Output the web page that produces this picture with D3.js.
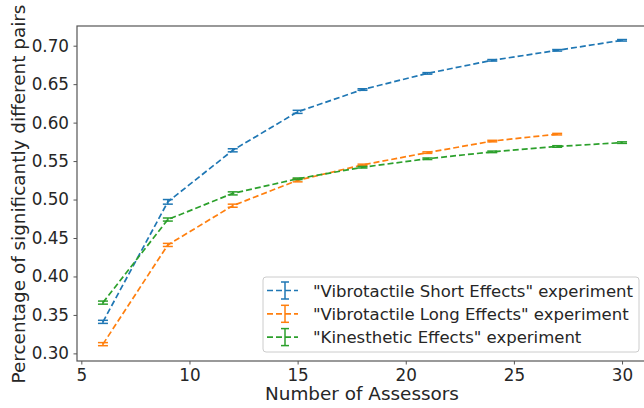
<!DOCTYPE html>
<html>
<head>
<meta charset="utf-8">
<script src="https://cdn.jsdelivr.net/npm/d3@7"></script>
<style>
  body { margin: 0; background: #fff; }
  text { font-family: "DejaVu Sans", sans-serif; fill: #262626; }
</style>
</head>
<body>
<div class="chart"></div>
<script>
// chart data
var assessors = [6, 9, 12, 15, 18, 21, 24, 27, 30];
var shortVals = [0.341, 0.497, 0.564, 0.614, 0.643, 0.664, 0.681, 0.694, 0.707];
var shortErr  = [0.002, 0.003, 0.002, 0.002, 0.001, 0.001, 0.001, 0.001, 0.001];
var longVals  = [0.312, 0.441, 0.492, 0.525, 0.545, 0.561, 0.576, 0.585];
var longErr   = [0.002, 0.002, 0.002, 0.002, 0.001, 0.001, 0.001, 0.001];
var kinVals   = [0.366, 0.474, 0.508, 0.527, 0.542, 0.553, 0.562, 0.569, 0.574];
var kinErr    = [0.002, 0.002, 0.002, 0.001, 0.001, 0.001, 0.001, 0.001, 0.001];
var seriesNames = ['"Vibrotactile Short Effects" experiment',
                   '"Vibrotactile Long Effects" experiment',
                   '"Kinesthetic Effects" experiment'];
var colors = ["#1f77b4", "#ff7f0e", "#2ca02c"];
var xTicks = [5, 10, 15, 20, 25, 30];
var yTicks = [0.30, 0.35, 0.40, 0.45, 0.50, 0.55, 0.60, 0.65, 0.70];

var svgWidth = 644, svgHeight = 408;
var margin = { top: 26, right: -4, bottom: 47, left: 77 };
var chartWidth = svgWidth - margin.left - margin.right;
var chartHeight = svgHeight - margin.top - margin.bottom;

var svg = d3.select(".chart").append("svg")
    .attr("width", svgWidth)
    .attr("height", svgHeight);

var chart = svg.append("g")
    .attr("transform", "translate(" + margin.left + "," + margin.top + ")");

var x = d3.scaleLinear().domain([4.8, 31.2]).range([0, chartWidth]);
var y = d3.scaleLinear().domain([0.2901, 0.7256]).range([chartHeight, 0]);

// frame
chart.append("rect")
    .attr("width", chartWidth).attr("height", chartHeight)
    .attr("fill", "none").attr("stroke", "#555").attr("stroke-width", 1.2);

// axes
var xAxis = chart.append("g")
    .attr("transform", "translate(0," + chartHeight + ")")
    .call(d3.axisBottom(x).tickValues(xTicks).tickSize(3.5).tickPadding(5).tickFormat(d3.format("d")));
var yAxis = chart.append("g")
    .call(d3.axisLeft(y).tickValues(yTicks).tickSize(3.5).tickPadding(4.5).tickFormat(d3.format(".2f")));
[xAxis, yAxis].forEach(function(a) {
    a.select(".domain").remove();
    a.selectAll("line").attr("stroke", "#555");
    a.selectAll("text").attr("font-size", 16.8).attr("fill", "#262626")
        .attr("font-family", "DejaVu Sans, sans-serif");
});

var series = [
    { vals: shortVals, err: shortErr },
    { vals: longVals, err: longErr },
    { vals: kinVals, err: kinErr }
];

var line = d3.line()
    .x(function(d) { return x(d.x); })
    .y(function(d) { return y(d.y); });

series.forEach(function(s, i) {
    var pts = s.vals.map(function(v, j) { return { x: assessors[j], y: v, e: s.err[j] }; });
    var g = chart.append("g");
    g.append("path")
        .datum(pts)
        .attr("d", line)
        .attr("fill", "none")
        .attr("stroke", colors[i])
        .attr("stroke-width", 1.7)
        .attr("stroke-dasharray", "6,3");
    var eb = g.selectAll(".eb").data(pts).enter().append("g");
    eb.append("line")
        .attr("x1", function(d) { return x(d.x); }).attr("x2", function(d) { return x(d.x); })
        .attr("y1", function(d) { return y(d.y - d.e); }).attr("y2", function(d) { return y(d.y + d.e); })
        .attr("stroke", colors[i]).attr("stroke-width", 1.5);
    [-1, 1].forEach(function(sg) {
        eb.append("line")
            .attr("x1", function(d) { return x(d.x) - 5; }).attr("x2", function(d) { return x(d.x) + 5; })
            .attr("y1", function(d) { return y(d.y + sg * d.e); }).attr("y2", function(d) { return y(d.y + sg * d.e); })
            .attr("stroke", colors[i]).attr("stroke-width", 1.5);
    });
});

// axis labels
svg.append("text")
    .attr("x", 362)
    .attr("y", 400)
    .attr("text-anchor", "middle")
    .attr("font-size", 18.4)
    .text("Number of Assessors");

svg.append("text")
    .attr("transform", "translate(25,194) rotate(-90)")
    .attr("text-anchor", "middle")
    .attr("font-size", 18.4)
    .text("Percentage of significantly different pairs");

// legend
var legend = svg.append("g").attr("transform", "translate(263,277)");
legend.append("rect")
    .attr("width", 376).attr("height", 75).attr("rx", 3)
    .attr("fill", "#fff").attr("fill-opacity", 0.8)
    .attr("stroke", "#ccc").attr("stroke-width", 1);
seriesNames.forEach(function(name, i) {
    var row = legend.append("g").attr("transform", "translate(0," + (13.5 + i * 23.3) + ")");
    row.append("line").attr("x1", 4).attr("x2", 35).attr("y1", 0).attr("y2", 0)
        .attr("stroke", colors[i]).attr("stroke-width", 1.7).attr("stroke-dasharray", "6,3");
    row.append("line").attr("x1", 22).attr("x2", 22).attr("y1", -8.5).attr("y2", 8.5)
        .attr("stroke", colors[i]).attr("stroke-width", 1.5);
    row.append("line").attr("x1", 18).attr("x2", 26).attr("y1", -8.5).attr("y2", -8.5)
        .attr("stroke", colors[i]).attr("stroke-width", 1.5);
    row.append("line").attr("x1", 18).attr("x2", 26).attr("y1", 8.5).attr("y2", 8.5)
        .attr("stroke", colors[i]).attr("stroke-width", 1.5);
    row.append("text").attr("x", 50).attr("y", 6)
        .attr("font-size", 16.5)
        .text(name);
});
</script>
</body>
</html>
